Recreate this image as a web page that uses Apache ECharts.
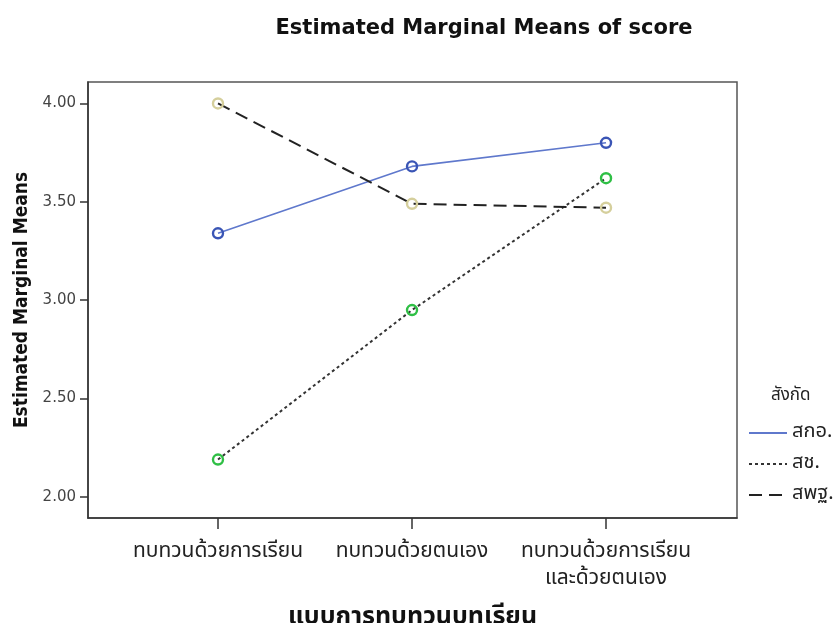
<!DOCTYPE html>
<html>
<head>
<meta charset="utf-8">
<script src="https://cdn.jsdelivr.net/npm/echarts@6/dist/echarts.min.js"></script>
<style>
html,body{margin:0;padding:0;background:#fff;}
#main{width:837px;height:623px;}
</style>
</head>
<body>
<div id="main"></div>
<script>
const categories = ['ทบทวนด้วยการเรียน', 'ทบทวนด้วยตนเอง', 'ทบทวนด้วยการเรียน\nและด้วยตนเอง'];
const seriesNames = ['สกอ.', 'สช.', 'สพฐ.'];
const valuesSKO = [3.34, 3.68, 3.80];
const valuesSCH = [2.19, 2.95, 3.62];
const valuesSPT = [4.00, 3.49, 3.47];
const yTicks = [2.0, 2.5, 3.0, 3.5, 4.0];
const xTicks = [0, 1, 2];

const toPts = arr => arr.map((v, i) => [i, v]);

const chart = echarts.init(document.getElementById('main'), null, {renderer: 'canvas'});
const font = '"DejaVu Sans", "Liberation Sans", Arial, sans-serif';
const thaiFont = '"Noto Sans Thai", "Loma", "Garuda", "Norasi", "DejaVu Sans", sans-serif';

function mk(name, data, lineColor, markerColor, lineType, width) {
  return {
    name: name,
    type: 'line',
    data: toPts(data),
    symbol: 'circle',
    symbolSize: 10,
    z: 3,
    lineStyle: {color: lineColor, width: width, type: lineType},
    itemStyle: {color: 'rgba(255,255,255,0)', borderColor: markerColor, borderWidth: 2.4},
    emphasis: {disabled: true},
    animation: false
  };
}

chart.setOption({
  animation: false,
  backgroundColor: '#fff',
  title: [
    {text: 'Estimated Marginal Means of score', left: 479, top: 13, textAlign: 'center',
     textStyle: {fontFamily: font, fontWeight: 'bold', fontSize: 21, color: '#111'}},
    {text: 'สังกัด', left: 766, top: 383,
     textStyle: {fontFamily: thaiFont, fontWeight: 'normal', fontSize: 17, color: '#222'}}
  ],
  grid: {left: 88, top: 82, right: 100, bottom: 105, show: true, borderColor: '#555', borderWidth: 1.5,
         containLabel: false, outerBoundsMode: 'none'},
  legend: {
    orient: 'vertical', left: 743, top: 418, itemWidth: 38, itemHeight: 10, itemGap: 11,
    data: seriesNames,
    itemStyle: {opacity: 0},
    textStyle: {fontFamily: thaiFont, fontSize: 20, color: '#222'}
  },
  xAxis: {
    type: 'value', min: -0.670, max: 2.675,
    splitLine: {show: false},
    axisLine: {show: true, onZero: false, lineStyle: {color: '#333', width: 1.5}},
    axisTick: {show: true, length: 11, customValues: xTicks, lineStyle: {color: '#333', width: 1.5}},
    axisLabel: {customValues: xTicks, formatter: v => categories[Math.round(v)], margin: 21,
      fontFamily: thaiFont, fontSize: 21, color: '#222', lineHeight: 27, align: 'center'},
    name: 'แบบการทบทวนบทเรียน', nameLocation: 'middle', nameGap: 88,
    nameTextStyle: {fontFamily: thaiFont, fontWeight: 'bold', fontSize: 25, color: '#111'}
  },
  yAxis: {
    type: 'value', min: 1.893, max: 4.109,
    splitLine: {show: false},
    axisLine: {show: true, onZero: false, lineStyle: {color: '#333', width: 1.5}},
    axisTick: {show: true, length: 8, customValues: yTicks, lineStyle: {color: '#333', width: 1.5}},
    axisLabel: {customValues: yTicks, formatter: v => v.toFixed(2), margin: 12,
      fontFamily: font, fontSize: 15, color: '#444'},
    name: 'Estimated Marginal Means', nameLocation: 'middle', nameGap: 54, nameRotate: 90,
    nameTextStyle: {fontFamily: '"Liberation Sans Narrow", "DejaVu Sans Condensed", Arial, sans-serif', fontWeight: 'bold', fontSize: 19, color: '#111'}
  },
  series: [
    mk(seriesNames[0], valuesSKO, '#5f78cc', '#3a55b5', 'solid', 1.6),
    mk(seriesNames[1], valuesSCH, '#333', '#2fbf45', [3, 3], 2),
    mk(seriesNames[2], valuesSPT, '#222', '#d5cf9c', [13, 7], 2)
  ]
});
</script>
</body>
</html>
